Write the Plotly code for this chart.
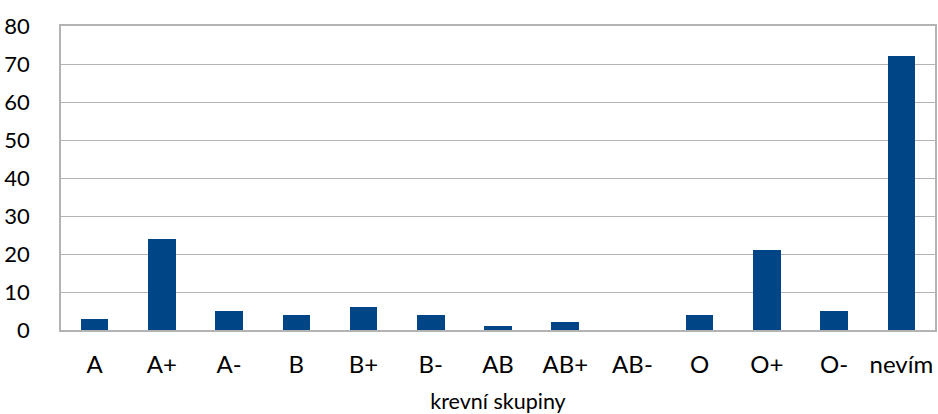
import plotly.graph_objects as go

# Blood groups and counts of respondents
categories = ["A", "A+", "A-", "B", "B+", "B-", "AB", "AB+", "AB-", "O", "O+", "O-", "nevím"]
counts = [3, 24, 5, 4, 6, 4, 1, 2, 0, 4, 21, 5, 72]
y_ticks = [0, 10, 20, 30, 40, 50, 60, 70, 80]

BAR = "#004586"
GRID = "#b3b3b3"
FONT = "Lato, 'Open Sans', sans-serif"

fig = go.Figure(
    go.Bar(
        x=categories,
        y=counts,
        marker=dict(color=BAR, line=dict(width=0)),
        width=0.41,
        hoverinfo="x+y",
    )
)

fig.update_layout(
    width=938,
    height=414,
    margin=dict(l=61, r=1, t=26, b=83),
    paper_bgcolor="white",
    plot_bgcolor="white",
    font=dict(family=FONT, size=22, color="#000000"),
    showlegend=False,
    bargap=0,
)

fig.update_xaxes(
    type="category",
    showline=True,
    linecolor=GRID,
    linewidth=1.5,
    mirror=True,
    showgrid=False,
    ticks="",
    ticklabelstandoff=12,
    tickfont=dict(size=24),
    title=dict(text="krevní skupiny", font=dict(size=21.5), standoff=20),
)

fig.update_yaxes(
    range=[0, 80],
    tickvals=y_ticks,
    showline=True,
    linecolor=GRID,
    linewidth=1.5,
    mirror=True,
    showgrid=True,
    gridcolor=GRID,
    gridwidth=1.2,
    zeroline=False,
    ticks="",
    ticklabelstandoff=25,
    tickfont=dict(size=22),
)

fig.write_html("out.html")
